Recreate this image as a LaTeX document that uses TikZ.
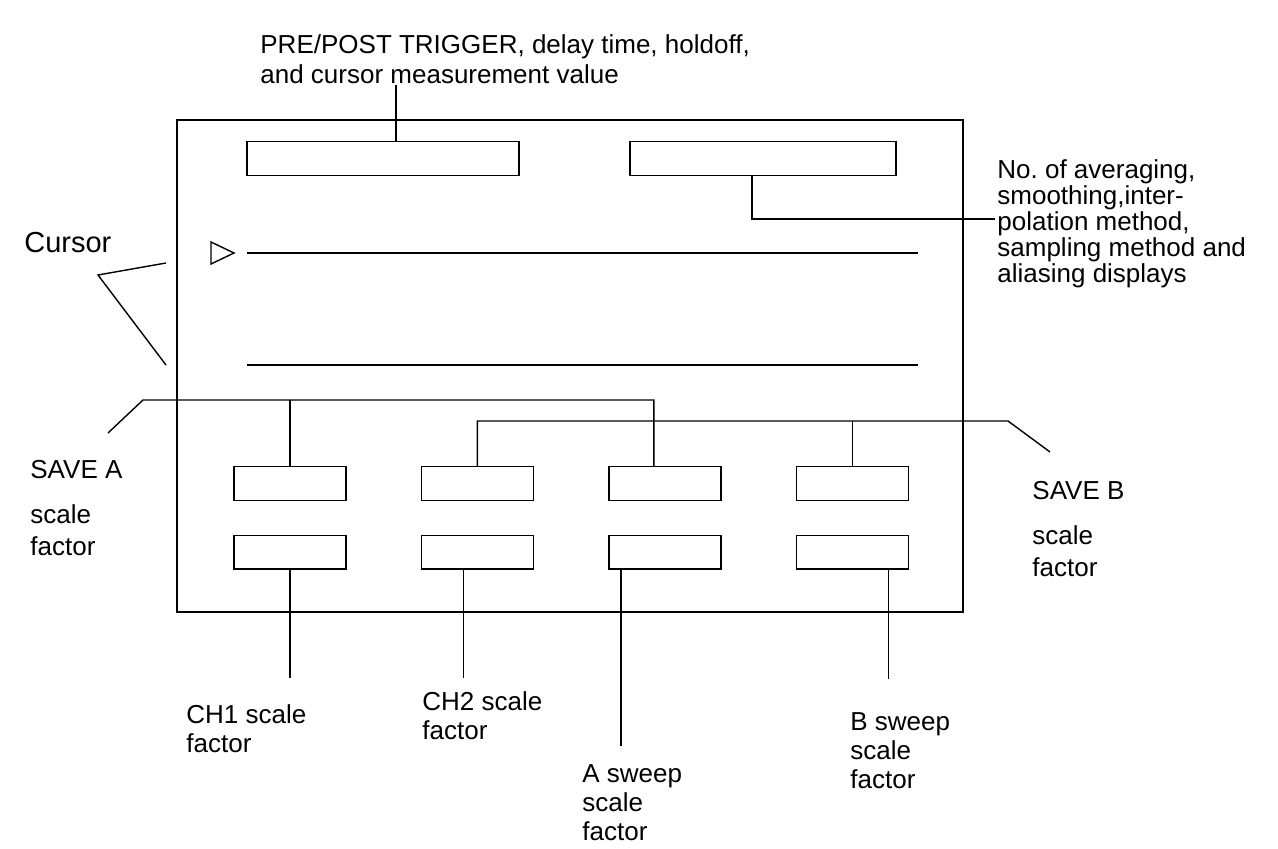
\documentclass[tikz,border=0pt]{standalone}
\usepackage{fontspec}
\setmainfont{Liberation Sans}
\usetikzlibrary{positioning}

\begin{document}
\begin{tikzpicture}[
    x=0.5pt, y=-0.5pt,
    node distance=17pt and 37pt,
    lead/.style={line width=0.7pt},
    slot/.style={rectangle, draw, line width=0.7pt, inner sep=0pt,
                 minimum width=56pt, minimum height=16.75pt},
    lbl/.style={inner sep=0pt, anchor=base west, align=left,
                font=\fontsize{13}{14.5}\selectfont},
  ]
    \useasboundingbox (0,0) rectangle (1278,849);
    \draw[lead] (177,120) rectangle (963,612);

    \node[slot, minimum width=136pt] (topl) at (383,158.5) {};
    \node[slot, minimum width=133pt] (topr) at (763,158.5) {};

    \node[slot] (b1) at (290,483.5) {};
    \node[slot, right=of b1] (b2) {};
    \node[slot, right=of b2] (b3) {};
    \node[slot, right=of b3] (b4) {};
    \node[slot, below=of b1] (c1) {};
    \node[slot, below=of b2] (c2) {};
    \node[slot, below=of b3] (c3) {};
    \node[slot, below=of b4] (c4) {};

    \draw[lead] (211,242) -- (234,253) -- (211,264) -- cycle;
    \draw[lead] (247,253) -- (918,253);
    \draw[lead] (247,365) -- (918,365);

    \node[lbl, font=\fontsize{13}{15}\selectfont] (trig) at (260,84)
        {PRE/POST TRIGGER, delay time, holdoff,\\and cursor measurement value};
    \node[lbl, font=\fontsize{13}{13}\selectfont] (avg) at (997,283)
        {No.\ of averaging,\\smoothing,inter-\\polation method,\\sampling method and\\aliasing displays};
    \node[lbl, font=\fontsize{14.5}{16}\selectfont] (cursor) at (24,253) {Cursor};
    \node[lbl, font=\fontsize{13}{16}\selectfont] (savea) at (30,555) {SAVE A\\[6.5pt]scale\\factor};
    \node[lbl, font=\fontsize{13}{16}\selectfont] (saveb) at (1032,576) {SAVE B\\[6.5pt]scale\\factor};
    \node[lbl] (ch1) at (186,752) {CH1 scale\\factor};
    \node[lbl] (ch2) at (422,739) {CH2 scale\\factor};
    \node[lbl] (asweep) at (582,840) {A sweep\\scale\\factor};
    \node[lbl] (bsweep) at (850,788) {B sweep\\scale\\factor};

    \coordinate (avgtip) at (995,219);
    \coordinate (curknee) at (98,275);
    \coordinate (curtop) at (166,263);
    \coordinate (curbot) at (166,365);
    \coordinate (saveaknee) at (143,400);
    \coordinate (saveatip) at (108,433);
    \coordinate (savebknee) at (1008,421);
    \coordinate (savebtip) at (1050,452);

    \draw[lead] ([xshift=6.5pt]topl.north) -- ([xshift=6.5pt]topl.north |- trig.south);
    \draw[lead] ([xshift=-5.5pt]topr.south) |- (avgtip);
    \draw[lead] (curtop) -- (curknee) -- (curbot);

    \draw[lead] (saveatip) -- (saveaknee) -| ([xshift=-5.5pt]b3.north);
    \draw[lead] (b1.north) -- (b1.north |- saveaknee);
    \draw[lead] (savebtip) -- (savebknee) -| (b2.north);
    \draw[lead] (b4.north) -- (b4.north |- savebknee);

    \draw[lead, shorten >=13pt] (c1.south) -- (c1.south |- ch1.north);
    \draw[lead, shorten >=6.5pt] ([xshift=-7pt]c2.south) -- ([xshift=-7pt]c2.south |- ch2.north);
    \draw[lead, shorten >=9pt] ([xshift=-22pt]c3.south) -- ([xshift=-22pt]c3.south |- asweep.north);
    \draw[lead, shorten >=16.5pt] ([xshift=18pt]c4.south) -- ([xshift=18pt]c4.south |- bsweep.north);
\end{tikzpicture}
\end{document}
